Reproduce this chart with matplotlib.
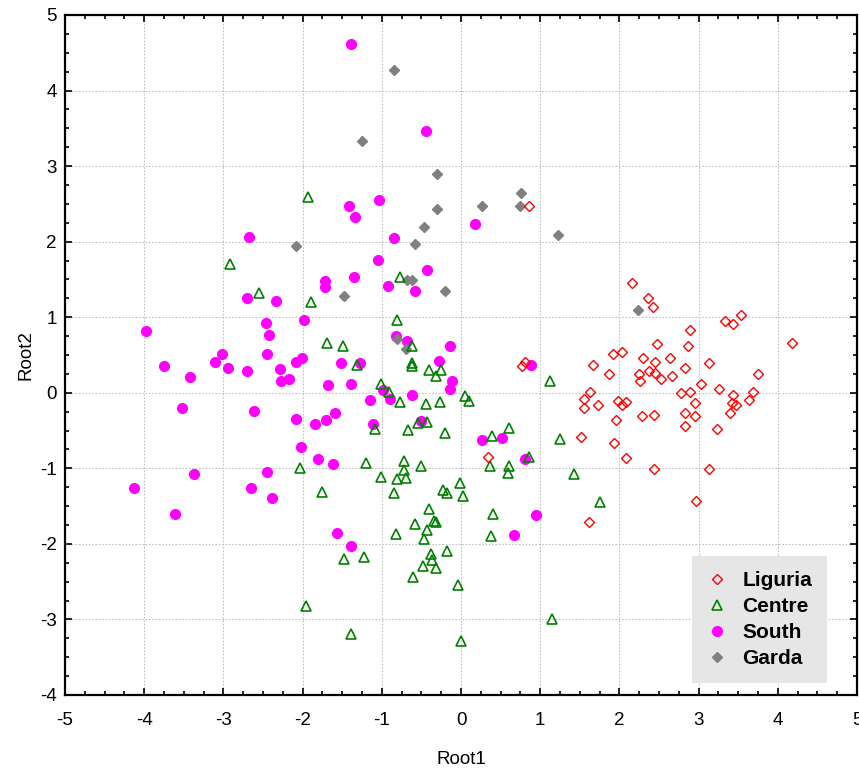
import matplotlib
matplotlib.use("Agg")
import matplotlib.pyplot as plt
from matplotlib.ticker import MultipleLocator
import numpy as np

plt.rcParams['font.family'] = ['Liberation Sans', 'DejaVu Sans']
plt.rcParams['axes.unicode_minus'] = False

liguria_x = [0.864, 0.767, 0.81, 0.343, 1.671, 1.865, 1.63, 1.548, 1.734, 1.548, 1.519, 1.616,
             2.159, 2.36, 2.424, 3.327, 3.432, 3.529, 2.886, 4.176, 2.478, 2.865, 1.914, 2.037,
             2.297, 2.642, 2.444, 3.13, 2.822, 2.242, 2.373, 2.449, 2.52, 2.26, 2.663,
             3.754, 3.024, 3.251, 2.78, 2.89, 3.428, 3.69, 3.63, 3.424, 3.478, 2.948, 3.39,
             1.986, 2.032, 2.083, 1.957, 2.28, 2.44, 2.822, 2.948, 2.822, 3.226, 1.93, 2.083,
             2.44, 3.13, 2.961]
liguria_y = [2.472, 0.35, 0.403, -0.857, 0.367, 0.248, 0.009, -0.088, -0.158, -0.203, -0.588, -1.706,
             1.455, 1.26, 1.133, 0.947, 0.916, 1.026, 0.835, 0.662, 0.64, 0.62, 0.518, 0.54,
             0.46, 0.46, 0.412, 0.39, 0.333, 0.253, 0.284, 0.257, 0.182, 0.155, 0.222,
             0.248, 0.12, 0.045, -0.008, 0.005, -0.03, 0.009, -0.097, -0.131, -0.163, -0.137, -0.264,
             -0.109, -0.167, -0.118, -0.357, -0.31, -0.29, -0.264, -0.31, -0.437, -0.482, -0.668, -0.862,
             -1.006, -1.006, -1.435]

centre_x = [-1.936, -2.923, -2.545, -1.894, -1.696, -2.037, -1.755, -1.957, -0.77, -0.81,
            -0.624, -1.49, -1.31, -0.624, -0.624, -0.405, -0.258, -0.32, -1.015, -0.91,
            -0.772, -0.444, -0.263, 0.052, 0.103, -1.09, -0.545, -0.426, -0.666, -0.204,
            -1.196, -0.725, -0.507, 0.385, 0.603, 0.363, 0.855, 0.603, 1.128, 1.255,
            -0.725, -0.805, -0.7, -1.01, -0.847, -0.225, -0.183, -0.019, 0.019, 0.59,
            1.431, 1.755, 0.401, 0.38, -0.406, -0.586, -0.343, -0.322, -0.426, -0.469,
            -0.826, -1.478, -1.226, -0.385, -0.363, -0.183, -0.48, -0.32, -0.603, -0.04,
            1.149, -1.393, 0.0]
centre_y = [2.587, 1.703, 1.318, 1.195, 0.66, -0.99, -1.31, -2.82, 1.526, 0.96,
            0.617, 0.617, 0.367, 0.39, 0.36, 0.3, 0.3, 0.22, 0.11, 0.005,
            -0.124, -0.145, -0.124, -0.04, -0.105, -0.485, -0.405, -0.392, -0.49, -0.53,
            -0.93, -0.906, -0.963, -0.574, -0.463, -0.963, -0.848, -0.963, 0.155, -0.618,
            -1.025, -1.14, -1.131, -1.117, -1.33, -1.29, -1.33, -1.2, -1.37, -1.064,
            -1.069, -1.447, -1.608, -1.9, -1.534, -1.737, -1.692, -1.706, -1.812, -1.931,
            -1.865, -2.2, -2.18, -2.135, -2.21, -2.094, -2.29, -2.32, -2.443, -2.54,
            -2.988, -3.195, -3.28]

south_x = [-1.393, -0.448, -1.41, -1.334, -1.03, -0.851, 0.18, -2.683,
           -1.713, -1.713, -2.7, -2.339, -1.982, -3.979, -2.461, -2.423, -2.444, -3.012,
           -3.104, -2.945, -2.7, -3.752, -3.428, -2.28, -2.267, -2.175, -2.08, -2.008,
           -1.675, -3.525, -2.62, -2.078, -1.84, -1.7, -1.595, -2.02, -1.8, -1.617,
           -3.373, -4.134, -2.646, -2.444, -2.381, -3.612, -1.57,
           -1.049, -1.356, -0.427, -0.927, -0.586, -0.826, -0.683, -0.145, -1.516, -1.271,
           -0.284, -0.12, -0.141, -1.393, -0.99, -0.893, -0.624, -1.15, -1.112, -0.51,
           0.263, 0.523, 0.813, 0.885, 0.948, 0.666, -1.393]
south_y = [4.617, 3.467, 2.476, 2.32, 2.556, 2.048, 2.237, 2.065,
           1.477, 1.402, 1.26, 1.22, 0.963, 0.818, 0.924, 0.77, 0.518, 0.518,
           0.412, 0.328, 0.284, 0.35, 0.204, 0.31, 0.155, 0.178, 0.412, 0.46,
           0.098, -0.207, -0.247, -0.353, -0.415, -0.357, -0.264, -0.715, -0.88, -0.94,
           -1.073, -1.264, -1.264, -1.052, -1.393, -1.603, -1.855,
           1.752, 1.535, 1.62, 1.411, 1.345, 0.752, 0.687, 0.62, 0.395, 0.395,
           0.416, 0.158, 0.046, 0.12, 0.04, -0.084, -0.03, -0.097, -0.41, -0.376,
           -0.627, -0.605, -0.88, 0.373, -1.622, -1.88, -2.024]

garda_x = [-0.847, -1.255, -0.305, -0.309, -0.464, -0.586, 0.263, 0.763, 0.742, 1.225,
           -2.08, -0.683, -0.625, -1.478, -0.2, -0.81, -0.69, 2.238]
garda_y = [4.276, 3.338, 2.90, 2.428, 2.19, 1.964, 2.472, 2.645, 2.472, 2.088,
           1.94, 1.495, 1.495, 1.283, 1.345, 0.71, 0.575, 1.093]

fig = plt.figure(figsize=(8.59, 7.68), dpi=100)
ax = fig.add_axes([0.0757, 0.0951, 0.9220, 0.8854])

hs = ax.plot(south_x, south_y, 'o', ms=7, color='#ff00ff', mec='#ff00ff', label='South', zorder=3)[0]
hg = ax.plot(garda_x, garda_y, 'D', ms=4.8, color='#808080', mec='#808080', label='Garda', zorder=4)[0]
hc = ax.plot(centre_x, centre_y, '^', ms=7, mfc='none', mec='#008000', mew=1.2, label='Centre', zorder=5)[0]
hl = ax.plot(liguria_x, liguria_y, 'D', ms=4.8, mfc='none', mec='#ff0000', mew=1.0, label='Liguria', zorder=6)[0]

ax.set_xlim(-5, 5)
ax.set_ylim(-4, 5)
ax.xaxis.set_major_locator(MultipleLocator(1))
ax.yaxis.set_major_locator(MultipleLocator(1))
ax.xaxis.set_minor_locator(MultipleLocator(0.25))
ax.yaxis.set_minor_locator(MultipleLocator(0.25))
ax.tick_params(which='both', direction='in', top=True, right=True, labelsize=13.5, width=1.2)
ax.tick_params(which='major', length=5)
ax.tick_params(which='minor', length=3)
ax.tick_params(axis='x', pad=12)
ax.tick_params(axis='y', pad=6)
ax.grid(True, which='major', color='#c0c0c0', linestyle=(0, (1.5, 1.5)), linewidth=0.8)
for s in ax.spines.values():
    s.set_linewidth(1.6)

ax.set_xlabel('Root1', fontsize=13.5, labelpad=16)
ax.set_ylabel('Root2', fontsize=13.5, labelpad=4)

leg = ax.legend([hl, hc, hs, hg], ['Liguria', 'Centre', 'South', 'Garda'],
                loc='lower right', bbox_to_anchor=(0.9625, 0.0176),
                prop={'weight': 'bold', 'size': 15}, frameon=True, fancybox=False,
                handlelength=0.9, handletextpad=0.8, borderpad=0.72, labelspacing=0.33,
                borderaxespad=0)
leg.get_frame().set_facecolor('#e6e6e6')
leg.get_frame().set_edgecolor('none')
leg.get_frame().set_alpha(1)

fig.savefig('out.png', dpi=100)
